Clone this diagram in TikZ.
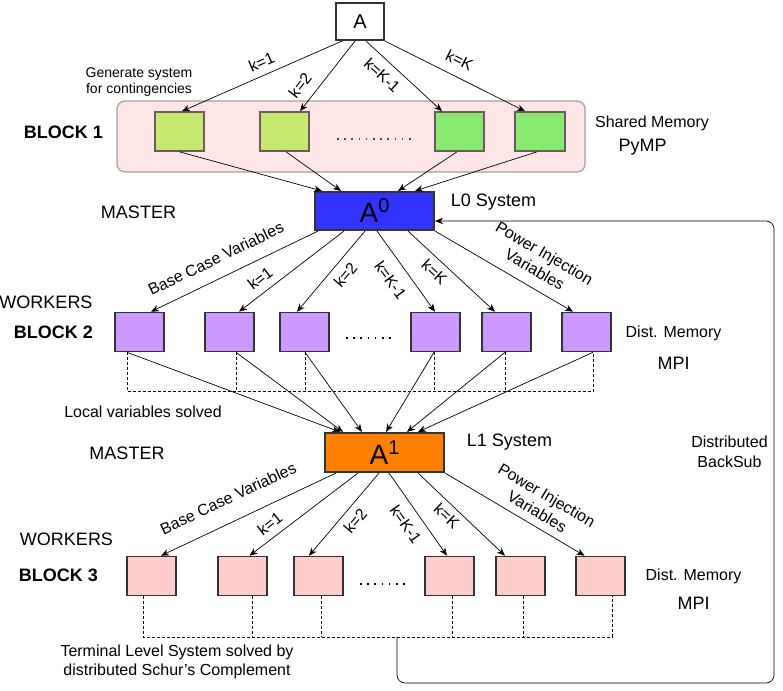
\documentclass[tikz,border=0pt]{standalone}
\usepackage{fontspec}
\setmainfont{Liberation Sans}
\usetikzlibrary{arrows.meta}

\definecolor{blkbg}{RGB}{255,230,230}
\definecolor{blkline}{RGB}{168,158,158}
\definecolor{lgreen}{RGB}{198,232,112}
\definecolor{dgreen}{RGB}{136,232,112}
\definecolor{gline}{RGB}{110,92,92}
\definecolor{lzblue}{RGB}{51,51,255}
\definecolor{loorange}{RGB}{255,128,0}
\definecolor{wpurple}{RGB}{204,153,255}
\definecolor{wpink}{RGB}{255,204,204}

\begin{document}
\begin{tikzpicture}[x=1pt, y=-1pt,
    box/.style={draw=black!80, line width=1.6pt, minimum width=49.5pt, minimum height=39pt, inner sep=0pt},
    gbox/.style={box, draw=gline},
    arr/.style={-{Stealth[length=8pt,width=6.5pt,inset=2.5pt]}, line width=0.7pt},
    lbl/.style={font=\fontsize{16}{19}\selectfont, inner sep=0pt},
    el/.style={lbl, sloped},
    big/.style={font=\fontsize{18}{21}\selectfont},
    blk/.style={font=\fontsize{18}{21}\selectfont\bfseries, inner sep=0pt},
    dashln/.style={line width=0.7pt, dash pattern=on 3pt off 2pt},
    dots/.style={line width=1.6pt, dash pattern=on 1.6pt off 5.6pt}]

    \useasboundingbox (0,0) rectangle (783,690);

    % block 1 container
    \filldraw[draw=blkline, fill=blkbg, line width=1.2pt, rounded corners=8] (117,101) rectangle (585,172);

    \node[box, fill=white, minimum width=48.5pt, minimum height=37.5pt, font=\fontsize{20}{20}\selectfont] (A) at (360,21.5) {A};

    \node[gbox, fill=lgreen] (g1) at (179.5,131.5) {};
    \node[gbox, fill=lgreen] (g2) at (284.5,131.5) {};
    \node[gbox, fill=dgreen] (g3) at (459.5,131.5) {};
    \node[gbox, fill=dgreen] (g4) at (540,131.5) {};
    \draw[dots, draw=black!70] (337,139) -- (413,139);

    \node[box, fill=lzblue, minimum width=119.5pt, minimum height=38.5pt, font=\fontsize{28}{28}\selectfont] (A0) at (374.5,211) {A\raisebox{10pt}{\fontsize{20}{20}\selectfont 0}};

    \node[box, fill=wpurple] (w1) at (139.5,332) {};
    \node[box, fill=wpurple] (w2) at (229.5,332) {};
    \node[box, fill=wpurple] (w3) at (304.5,332) {};
    \node[box, fill=wpurple] (w4) at (435.5,332) {};
    \node[box, fill=wpurple] (w5) at (506.5,332) {};
    \node[box, fill=wpurple] (w6) at (586.5,332) {};
    \draw[dots] (346,338) -- (396,338);

    \node[box, fill=loorange, minimum width=119.5pt, minimum height=39.5pt, font=\fontsize{28}{28}\selectfont] (A1) at (384.5,452.5) {A\raisebox{10pt}{\fontsize{20}{20}\selectfont 1}};

    \node[box, fill=wpink] (p1) at (151.5,576) {};
    \node[box, fill=wpink] (p2) at (242.5,576) {};
    \node[box, fill=wpink] (p3) at (318.5,576) {};
    \node[box, fill=wpink] (p4) at (449.5,576) {};
    \node[box, fill=wpink] (p5) at (520.5,576) {};
    \node[box, fill=wpink] (p6) at (600.5,576) {};
    \draw[dots] (360,584) -- (409,584);

    % side texts
    \node[lbl, font=\fontsize{14}{16}\selectfont, align=center] (gen) at (139,82) {Generate system\\for contingencies};
    \node[blk] (blk1) at (63.5,132) {BLOCK 1};
    \node[lbl] (shm1) at (652,123) {Shared Memory};
    \node[lbl, big] (pymp) at (642.5,147) {PyMP};
    \node[lbl, big] (mst0) at (138.5,212) {MASTER};
    \node[lbl, big] (lzsys) at (493.5,202) {L0 System};
    \node[lbl, big] (wk2) at (46,302) {WORKERS};
    \node[blk] (blk2) at (53.5,332) {BLOCK 2};
    \node[lbl] (dm2) at (673.5,333) {Dist. Memory};
    \node[lbl, big] (mpi2) at (673.5,363) {MPI};
    \node[lbl] (loc) at (143,412) {Local variables solved};
    \node[lbl, big] (losys) at (509.5,442) {L1 System};
    \node[lbl, big] (mst1) at (127,453) {MASTER};
    \node[lbl, align=center, font=\fontsize{16}{20}\selectfont] (bsub) at (729.5,452) {Distributed\\BackSub};
    \node[lbl, big] (wk3) at (66.5,539) {WORKERS};
    \node[blk] (blk3) at (58.5,575) {BLOCK 3};
    \node[lbl] (dm3) at (693.5,576) {Dist. Memory};
    \node[lbl, big] (mpi3) at (693.5,603) {MPI};
    \node[lbl, align=center] (term) at (177,661.5) {Terminal Level System solved by\\distributed Schur's Complement};

    % A -> block 1
    \draw[arr] ([xshift=-18pt]A.south) -- ([xshift=2.5pt]g1.north) node[el, pos=.47, above=7pt] {k=1};
    \draw[arr] ([xshift=-5pt]A.south) -- ([xshift=15.5pt]g2.north) node[el, pos=.77, above=10pt] {k=2};
    \draw[arr] ([xshift=6pt]A.south) -- ([xshift=-17.5pt]g3.north) node[el, pos=.34, below=8pt] {k=K-1};
    \draw[arr] (A.south east) -- ([xshift=-15pt]g4.north) node[el, pos=.48, above=10pt] {k=K};

    % block 1 -> A0
    \draw[arr] (g1.south) -- ([xshift=-52.5pt]A0.north);
    \draw[arr] ([xshift=1.5pt]g2.south) -- ([xshift=-33.5pt]A0.north);
    \draw[arr] ([xshift=-2.5pt]g3.south) -- ([xshift=23.5pt]A0.north);
    \draw[arr] ([xshift=-3pt]g4.south) -- ([xshift=40.5pt]A0.north);

    % A0 -> block 2
    \draw[arr] ([xshift=-56.5pt]A0.south) -- ([xshift=11.5pt]w1.north) node[el, pos=.56, above=13.5pt] {Base Case Variables};
    \draw[arr] ([xshift=-30.5pt]A0.south) -- ([xshift=9.5pt]w2.north) node[el, pos=.72, above=7.5pt] {k=1};
    \draw[arr] ([xshift=-9.5pt]A0.south) -- ([xshift=-7.5pt]w3.north) node[el, pos=.44, below=7.3pt] {k=2};
    \draw[arr] ([xshift=2.5pt]A0.south) -- ([xshift=-0.5pt]w4.north) node[el, pos=.48, below=11.4pt] {k=K-1};
    \draw[arr] ([xshift=33.5pt]A0.south) -- ([xshift=-11.5pt]w5.north) node[el, pos=.40, below=6pt] {k=K};
    \draw[arr] (A0.south east) -- ([xshift=-13.5pt]w6.north) node[el, pos=.66, above=11pt, align=center] {Power Injection\\Variables};

    % block 2 -> A1
    \draw[dashln] ([xshift=-12.5pt]w1.south) -- ++(0,39.5) -| ([xshift=6.5pt]w6.south);
    \draw[dashln] ([xshift=6.5pt]w2.south) -- ++(0,39.5);
    \draw[dashln] ([xshift=0.5pt]w3.south) -- ++(0,39.5);
    \draw[dashln] ([xshift=-1.5pt]w4.south) -- ++(0,39.5);
    \draw[dashln] ([xshift=-1.5pt]w5.south) -- ++(0,39.5);
    \draw[arr] ([xshift=-12.5pt]w1.south) -- ([xshift=-44.5pt]A1.north);
    \draw[arr] ([xshift=6.5pt]w2.south) -- ([xshift=-41.5pt]A1.north);
    \draw[arr] ([xshift=0.5pt]w3.south) -- ([xshift=-22.5pt]A1.north);
    \draw[arr] ([xshift=-1.5pt]w4.south) -- ([xshift=1.5pt]A1.north);
    \draw[arr] ([xshift=-1.5pt]w5.south) -- ([xshift=22.5pt]A1.north);
    \draw[arr] ([xshift=6.5pt]w6.south) -- ([xshift=33.5pt]A1.north);

    % A1 -> block 3
    \draw[arr] ([xshift=-48.5pt]A1.south) -- ([xshift=9.5pt]p1.north) node[el, pos=.56, above=17pt] {Base Case Variables};
    \draw[arr] ([xshift=-26.5pt]A1.south) -- ([xshift=7pt]p2.north) node[el, pos=.74, above=7pt] {k=1};
    \draw[arr] ([xshift=-5.5pt]A1.south) -- ([xshift=-9.5pt]p3.north) node[el, pos=.48, below=6.6pt] {k=2};
    \draw[arr] ([xshift=4.5pt]A1.south) -- ([xshift=-2.5pt]p4.north) node[el, pos=.51, below=9.3pt] {k=K-1};
    \draw[arr] ([xshift=33.5pt]A1.south) -- ([xshift=-15.5pt]p5.north) node[el, pos=.42, below=5pt] {k=K};
    \draw[arr] (A1.south east) -- ([xshift=-16pt]p6.north) node[el, pos=.61, above=7.6pt, align=center] {Power Injection\\Variables};

    % block 3 -> back substitution
    \draw[dashln] ([xshift=-8.5pt]p1.south) -- ++(0,41) -| ([xshift=11.5pt]p6.south);
    \draw[dashln] ([xshift=9.5pt]p2.south) -- ++(0,41);
    \draw[dashln] ([xshift=2.5pt]p3.south) -- ++(0,41);
    \draw[dashln] ([xshift=2.5pt]p4.south) -- ++(0,41);
    \draw[dashln] ([xshift=2.5pt]p5.south) -- ++(0,41);
    \coordinate (fb) at (397,637);
    \draw[arr, rounded corners=8] (fb) |- ++(377,46) |- ([yshift=-10pt]A0.east);

\end{tikzpicture}
\end{document}
